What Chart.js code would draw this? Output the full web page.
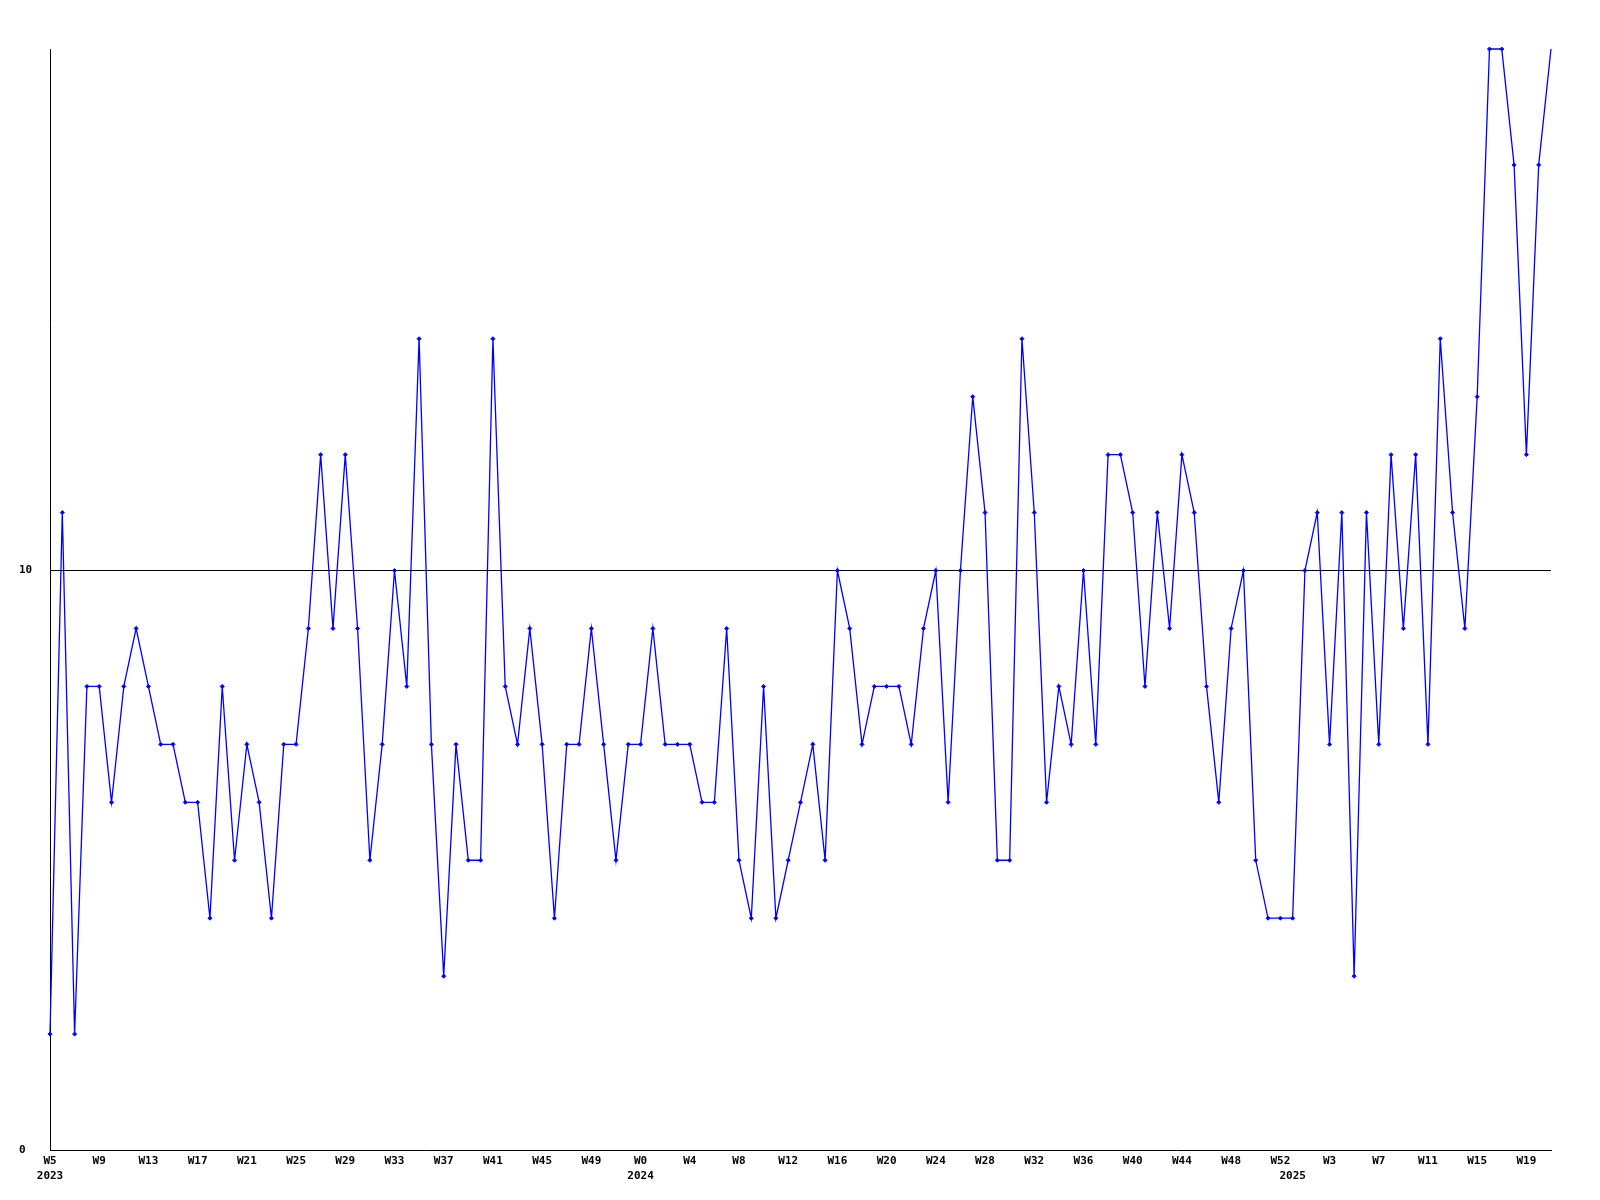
<!DOCTYPE html>
<html>
<head>
<meta charset="utf-8">
<script src="https://cdn.jsdelivr.net/npm/chart.js@4.4.0/dist/chart.umd.min.js"></script>
<style>
  html, body { margin: 0; padding: 0; background: #fff; }
  #wrap { width: 1600px; height: 1200px; }
</style>
</head>
<body>
<div id="wrap"><canvas id="chart"></canvas></div>
<script>
// weeks covered by the data, per year
const years     = [2023, 2024, 2025];
const firstWeek = [5, 0, 0];
const lastWeek  = [52, 52, 21];

// one value per week
const counts = [
  2, 11, 2, 8, 8, 6, 8, 9, 8, 7, 7, 6, 6, 4, 8, 5, 7, 6, 4, 7,
  7, 9, 12, 9, 12, 9, 5, 7, 10, 8, 14, 7, 3, 7, 5, 5, 14, 8, 7, 9,
  7, 4, 7, 7, 9, 7, 5, 7, 7, 9, 7, 7, 7, 6, 6, 9, 5, 4, 8, 4,
  5, 6, 7, 5, 10, 9, 7, 8, 8, 8, 7, 9, 10, 6, 10, 13, 11, 5, 5, 14,
  11, 6, 8, 7, 10, 7, 12, 12, 11, 8, 11, 9, 12, 11, 8, 6, 9, 10, 5, 4,
  4, 4, 10, 11, 7, 11, 3, 11, 7, 12, 9, 12, 7, 14, 11, 9, 13, 19, 19, 17,
  12, 17, 19
];

const yTicks = [0, 10];
const yMax = 19;
const labelEvery = 4;

const weeks = [];
const yearAt = {};
years.forEach((y, i) => {
  yearAt[weeks.length] = String(y);
  for (let w = firstWeek[i]; w <= lastWeek[i]; w++) weeks.push('W' + w);
});

function tickLabel(i) {
  const w = i % labelEvery === 0 ? weeks[i] : '';
  if (yearAt[i]) return [w, yearAt[i]];
  return w;
}

const font = { family: "'DejaVu Sans Mono', monospace", size: 11, weight: 'bold', lineHeight: 1.41 };

new Chart(document.getElementById('chart').getContext('2d'), {
  type: 'line',
  data: {
    labels: weeks,
    datasets: [{
      data: counts,
      borderColor: '#0000ff',
      backgroundColor: '#0000ff',
      borderWidth: 1.3,
      pointStyle: 'rectRot',
      // the last week has no marker in the original
      pointRadius: c => c.dataIndex === counts.length - 1 ? 0 : 2,
      pointBorderWidth: 1,
      tension: 0,
      clip: false
    }]
  },
  options: {
    responsive: true,
    maintainAspectRatio: false,
    animation: false,
    layout: { padding: { left: 19, top: 49, right: 49, bottom: 10 } },
    plugins: { legend: { display: false }, tooltip: { enabled: false } },
    scales: {
      x: {
        grid: { display: false, drawTicks: false },
        border: { display: true, color: '#000', width: 1 },
        ticks: {
          autoSkip: false, maxRotation: 0, minRotation: 0, padding: 3,
          color: '#000', font,
          callback: (v, i) => tickLabel(i)
        },
        afterFit: s => { s.height = 40; }
      },
      y: {
        min: 0, max: yMax,
        grid: {
          drawTicks: false, lineWidth: 1,
          color: c => (c.tick && c.tick.value === 10) ? '#000' : 'rgba(0,0,0,0)'
        },
        border: { display: true, color: '#000', width: 1 },
        ticks: { crossAlign: 'far', padding: 0, color: '#000', font },
        afterBuildTicks: s => { s.ticks = yTicks.map(v => ({ value: v })); },
        afterFit: s => { s.width = 31; }
      }
    }
  }
});
</script>
</body>
</html>
